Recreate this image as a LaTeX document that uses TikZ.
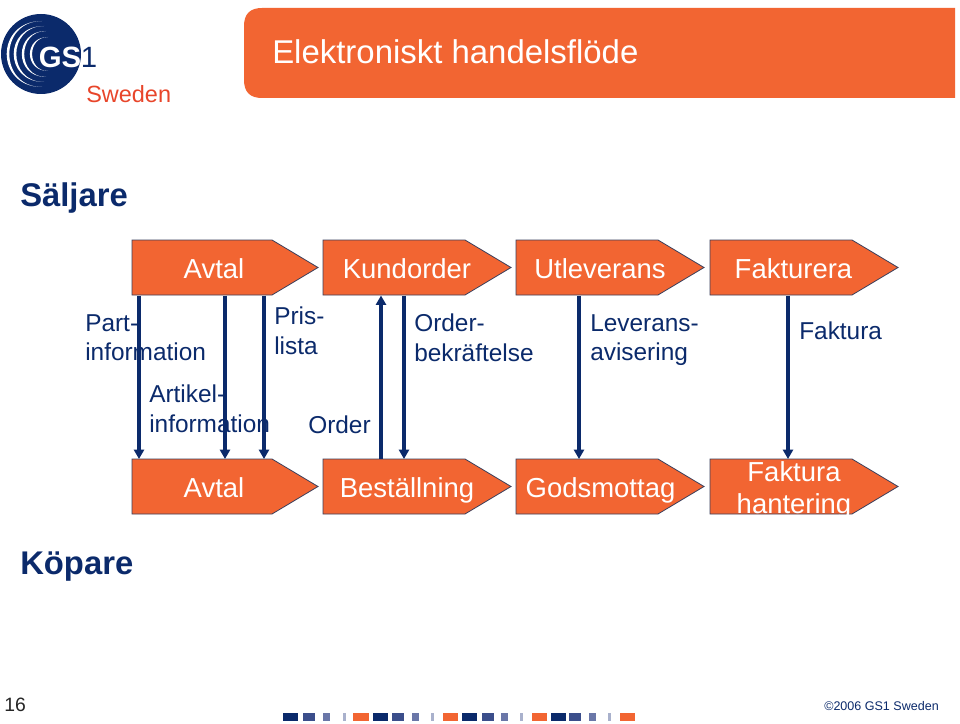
\documentclass[tikz,border=0pt]{standalone}
\usepackage{fontspec}
\setmainfont{Liberation Sans}
\usetikzlibrary{arrows.meta}
\definecolor{gsorange}{HTML}{F26532}
\definecolor{gsnavy}{HTML}{0B2A6B}
\definecolor{gsred}{HTML}{E8452A}
\definecolor{edgegrey}{HTML}{3A3F5C}
\definecolor{sqa}{HTML}{3B4E8B}
\definecolor{sqb}{HTML}{6A77A8}
\definecolor{sqc}{HTML}{A9B1CC}
\tikzset{
  x=0.75pt,y=-0.75pt,
  flow/.style={draw=gsnavy,line width=2.5pt,-{Triangle[length=7pt,width=7.5pt]}},
  anchorbox/.style={inner sep=0pt,minimum width=#1*0.75pt,minimum height=41.25pt,anchor=north west},
  chevtext/.style={text=white,font=\fontsize{20.6}{24}\selectfont,align=center,anchor=base,inner sep=0pt},
  lab/.style={text=gsnavy,font=\fontsize{18.3}{22.4}\selectfont,align=left,anchor=north west,inner sep=0pt},
  head/.style={text=gsnavy,font=\fontsize{24.6}{28}\bfseries\selectfont,anchor=base west,inner sep=0pt},
}
% name, x, y, shoulder distance
\newcommand{\chevron}[4]{%
  \node[anchorbox=186] (#1) at (#2,#3) {};
  \fill[gsorange,draw=edgegrey,line width=0.6pt] (#2,#3) -- ++(#4,0) -- ++(46,27.5) -- ++(-46,27.5) -- ++(-#4,0) -- cycle;
}
% crescent: left extreme, end x, half height, thickness
\newcommand{\crescent}[4]{%
  \fill[white] (#2,54-#3) .. controls ({#2-1.333*(#2-(#1-#4))},54-#3) and ({#2-1.333*(#2-(#1-#4))},54+#3) .. (#2,54+#3)
     .. controls ({#2-1.333*(#2-(#1+#4))},54+#3) and ({#2-1.333*(#2-(#1+#4))},54-#3) .. (#2,54-#3) -- cycle;
}
\begin{document}
\begin{tikzpicture}
\useasboundingbox (0,0) rectangle (960,724);
\fill[white] (0,0) rectangle (960,724);
% title bar
\fill[gsorange] (262,8) -- (955,8) -- (955,98) -- (262,98) .. controls (250,98) and (244,92) .. (244,80) -- (244,26) .. controls (244,14) and (250,8) .. (262,8) -- cycle;
\node[text=white,font=\fontsize{24.7}{28}\selectfont,anchor=base west,inner sep=0pt] (title) at (272,64) {Elektroniskt handelsflöde};
% logo
\fill[gsnavy] (41,54) circle (40);
\crescent{8}{42}{33}{1.3}
\crescent{15}{44}{28}{1.3}
\crescent{23}{46}{23}{1.2}
\crescent{31}{48}{17}{1.1}
\node[text=white,font=\fontsize{22}{22}\bfseries\selectfont,inner sep=0pt] (gs) at (60,57) {GS};
\node[text=gsnavy,font=\fontsize{22}{22}\selectfont,inner sep=0pt] (one) at (89,57) {1};
\node[text=gsred,font=\fontsize{17.6}{20}\selectfont,anchor=base west,inner sep=0pt] (sweden) at (86,103) {Sweden};
% headings
\node[head] (saljare) at (20,206) {Säljare};
\node[head] (kopare) at (20,574) {Köpare};
% top row
\chevron{t1}{132}{240}{140}
\chevron{t2}{323}{240}{142}
\chevron{t3}{516}{240}{142}
\chevron{t4}{710}{240}{142}
\node[chevtext] (t1x) at (214,278) {Avtal};
\node[chevtext] (t2x) at (407,278) {Kundorder};
\node[chevtext] (t3x) at (600,278) {Utleverans};
\node[chevtext] (t4x) at (793.5,278) {Fakturera};
% bottom row
\chevron{b1}{132}{459}{140}
\chevron{b2}{323}{459}{142}
\chevron{b3}{516}{459}{142}
\chevron{b4}{710}{459}{142}
\node[chevtext] (b1x) at (214,497) {Avtal};
\node[chevtext] (b2x) at (407,497) {Beställning};
\node[chevtext] (b3x) at (600.5,497) {Godsmottag};
\begin{scope}
\clip (710,440) rectangle (898,514);
\node[chevtext,anchor=center,font=\fontsize{20.6}{24}\selectfont] (b4x) at (794,490) {Faktura\\hantering};
\end{scope}
% labels
\node[lab] (l1) at (85,314) {Part-\\information};
\node[lab] (l2) at (149,385) {Artikel-\\information};
\node[lab] (l3) at (274,307) {Pris-\\lista};
\node[lab] (l4) at (308,416) {Order};
\node[lab] (l5) at (414,314) {Order-\\bekräftelse};
\node[lab] (l6) at (590,314) {Leverans-\\avisering};
\node[lab] (l7) at (799,322) {Faktura};
% connectors
\draw[flow] (t1.south -| 139,0) -- (b1.north -| 139,0);
\draw[flow] (t1.south -| 225,0) -- (b1.north -| 225,0);
\draw[flow] (t1.south -| 264,0) -- (b1.north -| 264,0);
\draw[flow] (b2.north -| 381,0) -- (t2.south -| 381,0);
\draw[flow] (t2.south -| 404,0) -- (b2.north -| 404,0);
\draw[flow] (t3.south -| 579,0) -- (b3.north -| 579,0);
\draw[flow] (t4.south -| 788,0) -- (b4.north -| 788,0);
% footer
\node[text=black!85,font=\fontsize{14.5}{16}\selectfont,anchor=base west,inner sep=0pt] (page) at (4,711) {16};
\node[text=gsnavy,font=\fontsize{9.4}{11}\selectfont,anchor=base east,inner sep=0pt] (copy) at (939,710) {©2006 GS1 Sweden};
\foreach \x/\w/\c in {283/15/gsnavy,303/12/sqa,323/7/sqb,343/3/sqc,353/16/gsorange,373/15/gsnavy,392/12/sqa,412/7/sqb,431/3/sqc,443/15/gsorange,462/15/gsnavy,482/12/sqa,501/7/sqb,520/3/sqc,532/15/gsorange,551/15/gsnavy,569/12/sqa,589/7/sqb,608/3/sqc,620/15/gsorange}
  \fill[\c] (\x,713) rectangle ++(\w,8);
\end{tikzpicture}
\end{document}
